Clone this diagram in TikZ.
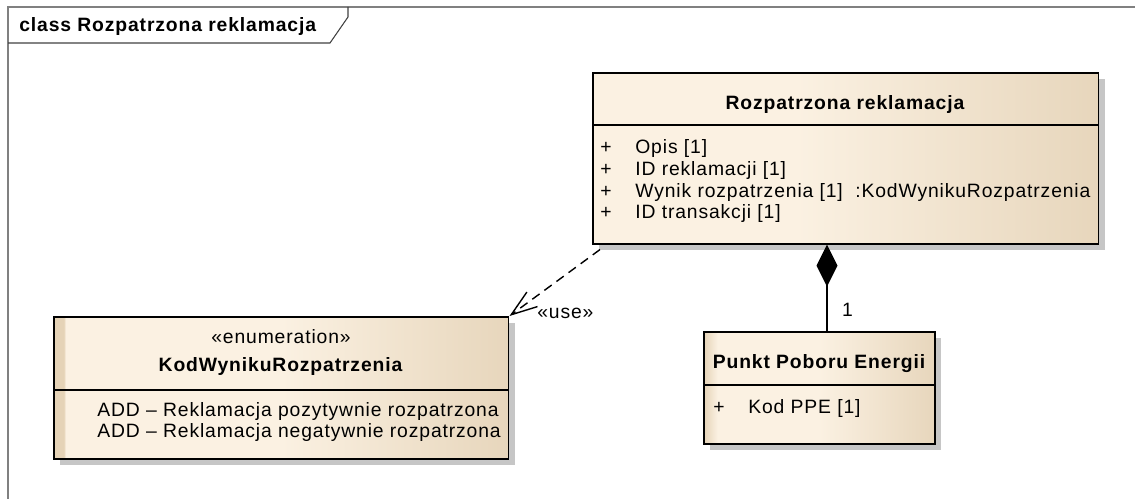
\documentclass[tikz,border=0pt]{standalone}
\usepackage{fontspec}
\setmainfont{Liberation Sans}[LetterSpace=4.5]
\usepackage{tikz}
\usetikzlibrary{arrows.meta, shadows}
\definecolor{umllight}{RGB}{251, 241, 226}
\definecolor{umldark}{RGB}{231, 214, 188}
\definecolor{umlstrip}{RGB}{229, 211, 183}
\definecolor{shadowgray}{RGB}{198, 198, 198}
\definecolor{framegray}{RGB}{128, 128, 128}
\pgfdeclarehorizontalshading{classshade}{100bp}{color(0bp)=(umllight); color(25bp)=(umllight); color(45bp)=(umllight); color(75bp)=(umldark); color(100bp)=(umldark)}
\pgfdeclarehorizontalshading{enumshade}{100bp}{color(0bp)=(umlstrip); color(26.1bp)=(umlstrip); color(26.3bp)=(umllight); color(50bp)=(umllight); color(75bp)=(umldark); color(100bp)=(umldark)}
\pgfdeclarehorizontalshading{ppeshade}{100bp}{color(0bp)=(umlstrip); color(25bp)=(umlstrip); color(28bp)=(umllight); color(50bp)=(umllight); color(75bp)=(umldark); color(100bp)=(umldark)}
\newcommand{\umlsize}{\fontsize{11pt}{13.2pt}\selectfont}

\begin{document}
\begin{tikzpicture}[
  x=0.02cm, y=-0.02cm,
  classbox/.style={draw=black, line width=0.9pt, shading=classshade, anchor=north west, inner sep=0pt,
    drop shadow={shadow xshift=0.13cm, shadow yshift=-0.12cm, fill=shadowgray, opacity=1}},
  divider/.style={draw=black, line width=0.9pt},
  classname/.style={font=\umlsize\bfseries, anchor=base, inner sep=0pt},
  attr/.style={font=\umlsize, anchor=base west, inner sep=0pt},
  vis/.style={font=\umlsize, anchor=base, inner sep=0pt},
  framestyle/.style={draw=framegray, line width=1.1pt},
  tabline/.style={draw=darkgray, line width=0.6pt},
  usearrow/.style={-{Straight Barb[length=0.52cm, width=0.36cm]}, line width=0.8pt, dash pattern=on 0.18cm off 0.12cm},
  composition/.style={-{Diamond[length=0.84cm, width=0.42cm]}, line width=0.9pt}
]
\useasboundingbox (0,0) rectangle (1135,499);

% Frame
\draw[framestyle] (8,499) -- (8,7) -- (1135,7);
\draw[tabline] (8,43) -- (330,43) -- (348,17) -- (348,7);
\node[classname, anchor=base west] (frameTitle) at (19,32) {class Rozpatrzona reklamacja};

% Rozpatrzona reklamacja
\node[classbox, minimum width=10.12cm, minimum height=3.42cm] (rec) at (592,72) {};
\coordinate (recSplit) at (592,125);
\draw[divider] (recSplit) -- (recSplit -| rec.east);
\node[classname] (recName) at (845,110) {Rozpatrzona reklamacja};
\node[vis] (recV1) at (606,154) {+};
\node[attr] (recA1) at (635,154) {Opis [1]};
\node[vis] (recV2) at (606,176) {+};
\node[attr] (recA2) at (635,176) {ID reklamacji [1]};
\node[vis] (recV3) at (606,197.5) {+};
\node[attr] (recA3) at (635,197.5) {Wynik rozpatrzenia [1]\ \ :KodWynikuRozpatrzenia};
\node[vis] (recV4) at (606,219) {+};
\node[attr] (recA4) at (635,219) {ID transakcji [1]};

% KodWynikuRozpatrzenia
\node[classbox, shading=enumshade, minimum width=9.1cm, minimum height=2.84cm] (enum) at (53,316) {};
\coordinate (enumSplit) at (53,390);
\draw[divider] (enumSplit) -- (enumSplit -| enum.east);
\node[vis] (enumStereo) at (281,343.5) {«enumeration»};
\node[classname] (enumName) at (280.5,372) {KodWynikuRozpatrzenia};
\node[attr] (enumL1) at (97,417) {ADD – Reklamacja pozytywnie rozpatrzona};
\node[attr] (enumL2) at (97,437.5) {ADD – Reklamacja negatywnie rozpatrzona};

% Punkt Poboru Energii
\node[classbox, shading=ppeshade, minimum width=4.62cm, minimum height=2.24cm] (ppe) at (703,331) {};
\coordinate (ppeSplit) at (703,385);
\draw[divider] (ppeSplit) -- (ppeSplit -| ppe.east);
\node[classname] (ppeName) at (819,369) {Punkt Poboru Energii};
\node[vis] (ppeV1) at (719,414) {+};
\node[attr] (ppeA1) at (748,414) {Kod PPE [1]};

% Connectors
\draw[usearrow] ([xshift=0.16cm, yshift=-0.1cm]rec.south west) -- (enum.north east);
\node[vis, anchor=base west] (useLabel) at (537,319) {«use»};

\coordinate (compAt) at (827,300);
\draw[composition] (compAt |- ppe.north) -- (compAt |- rec.south);
\node[vis] (multPPE) at (847.5,317) {1};

\end{tikzpicture}
\end{document}
